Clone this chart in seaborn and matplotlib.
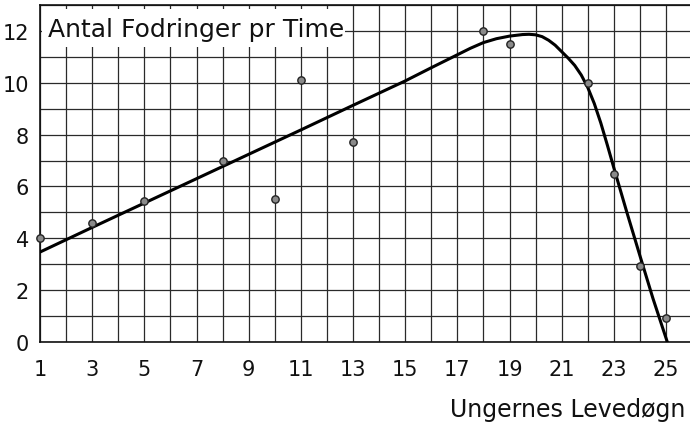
import matplotlib
matplotlib.use("Agg")
import matplotlib.pyplot as plt
from matplotlib.patches import Rectangle
import seaborn as sns

# Observed data points
day = [1, 3, 5, 8, 10, 11, 13, 18, 19, 22, 23, 24, 25]
feeds = [4.0, 4.6, 5.45, 7.0, 5.5, 10.1, 7.7, 12.0, 11.5, 10.0, 6.5, 2.93, 0.93]

# Hand-drawn fitted curve
curve_x = [1, 3, 5, 7, 9, 11, 13, 15, 16, 16.5, 17, 17.5, 18, 18.5, 19, 19.5,
           19.75, 20, 20.25, 20.5, 20.75, 21, 21.25, 21.5, 21.75, 22, 22.25,
           22.5, 22.75, 23, 23.5, 24, 24.5, 25.05]
curve_y = [3.47, 4.42, 5.36, 6.30, 7.24, 8.18, 9.13, 10.07, 10.58, 10.83, 11.08,
           11.33, 11.55, 11.70, 11.80, 11.86, 11.87, 11.85, 11.78, 11.64, 11.45,
           11.2, 10.95, 10.67, 10.3, 9.82, 9.2, 8.45, 7.6, 6.72, 5.0, 3.33,
           1.68, 0.0]

x_ticks = [1, 3, 5, 7, 9, 11, 13, 15, 17, 19, 21, 23, 25]
y_ticks = [0, 2, 4, 6, 8, 10, 12]

title_text = "Antal Fodringer pr Time"
x_label = "Ungernes Levedøgn"

sns.set_style("white")
plt.rcParams['font.family'] = ['DejaVu Sans']

fig = plt.figure(figsize=(6.9, 4.27), dpi=100)
ax = fig.add_axes([40 / 690, (427 - 343) / 427, 650 / 690, 337 / 427])

ax.set_xlim(1, 25.92)
ax.set_ylim(0, 13)

# grid every unit
ax.set_xticks(list(range(1, 26)), minor=True)
ax.set_yticks(list(range(0, 14)), minor=True)
ax.set_xticks(x_ticks)
ax.set_yticks(y_ticks)
ax.grid(which='both', color='#2a2a2a', linewidth=0.9, zorder=1)
ax.set_axisbelow(True)
ax.tick_params(which='both', length=0)
ax.tick_params(axis='x', pad=12, labelsize=15, labelcolor='#111')
ax.tick_params(axis='y', pad=8, labelsize=15, labelcolor='#111')

for s in ['left', 'bottom', 'top']:
    ax.spines[s].set_color('#111')
    ax.spines[s].set_linewidth(1.2)
ax.spines['right'].set_visible(False)

# title box covering the grid
ax.add_patch(Rectangle((1.06, 11.38), 11.64, 1.47, facecolor='white',
                       edgecolor='none', zorder=2))
ax.text(1.3, 12.08, title_text, fontsize=18, ha='left', va='center', zorder=3,
        color='#111')

sns.lineplot(x=curve_x, y=curve_y, color='black', linewidth=2.2, sort=False,
             estimator=None, ax=ax, zorder=4)
sns.scatterplot(x=day, y=feeds, color='#8a8a8a', edgecolor='#222', s=28,
                linewidth=1.0, ax=ax, zorder=5, clip_on=False)

ax.set_xlabel("")
ax.set_ylabel("")
fig.text(685 / 690, (427 - 410) / 427, x_label, ha='right', va='center',
         fontsize=17, color='#111')

fig.savefig("out.png", dpi=100)
